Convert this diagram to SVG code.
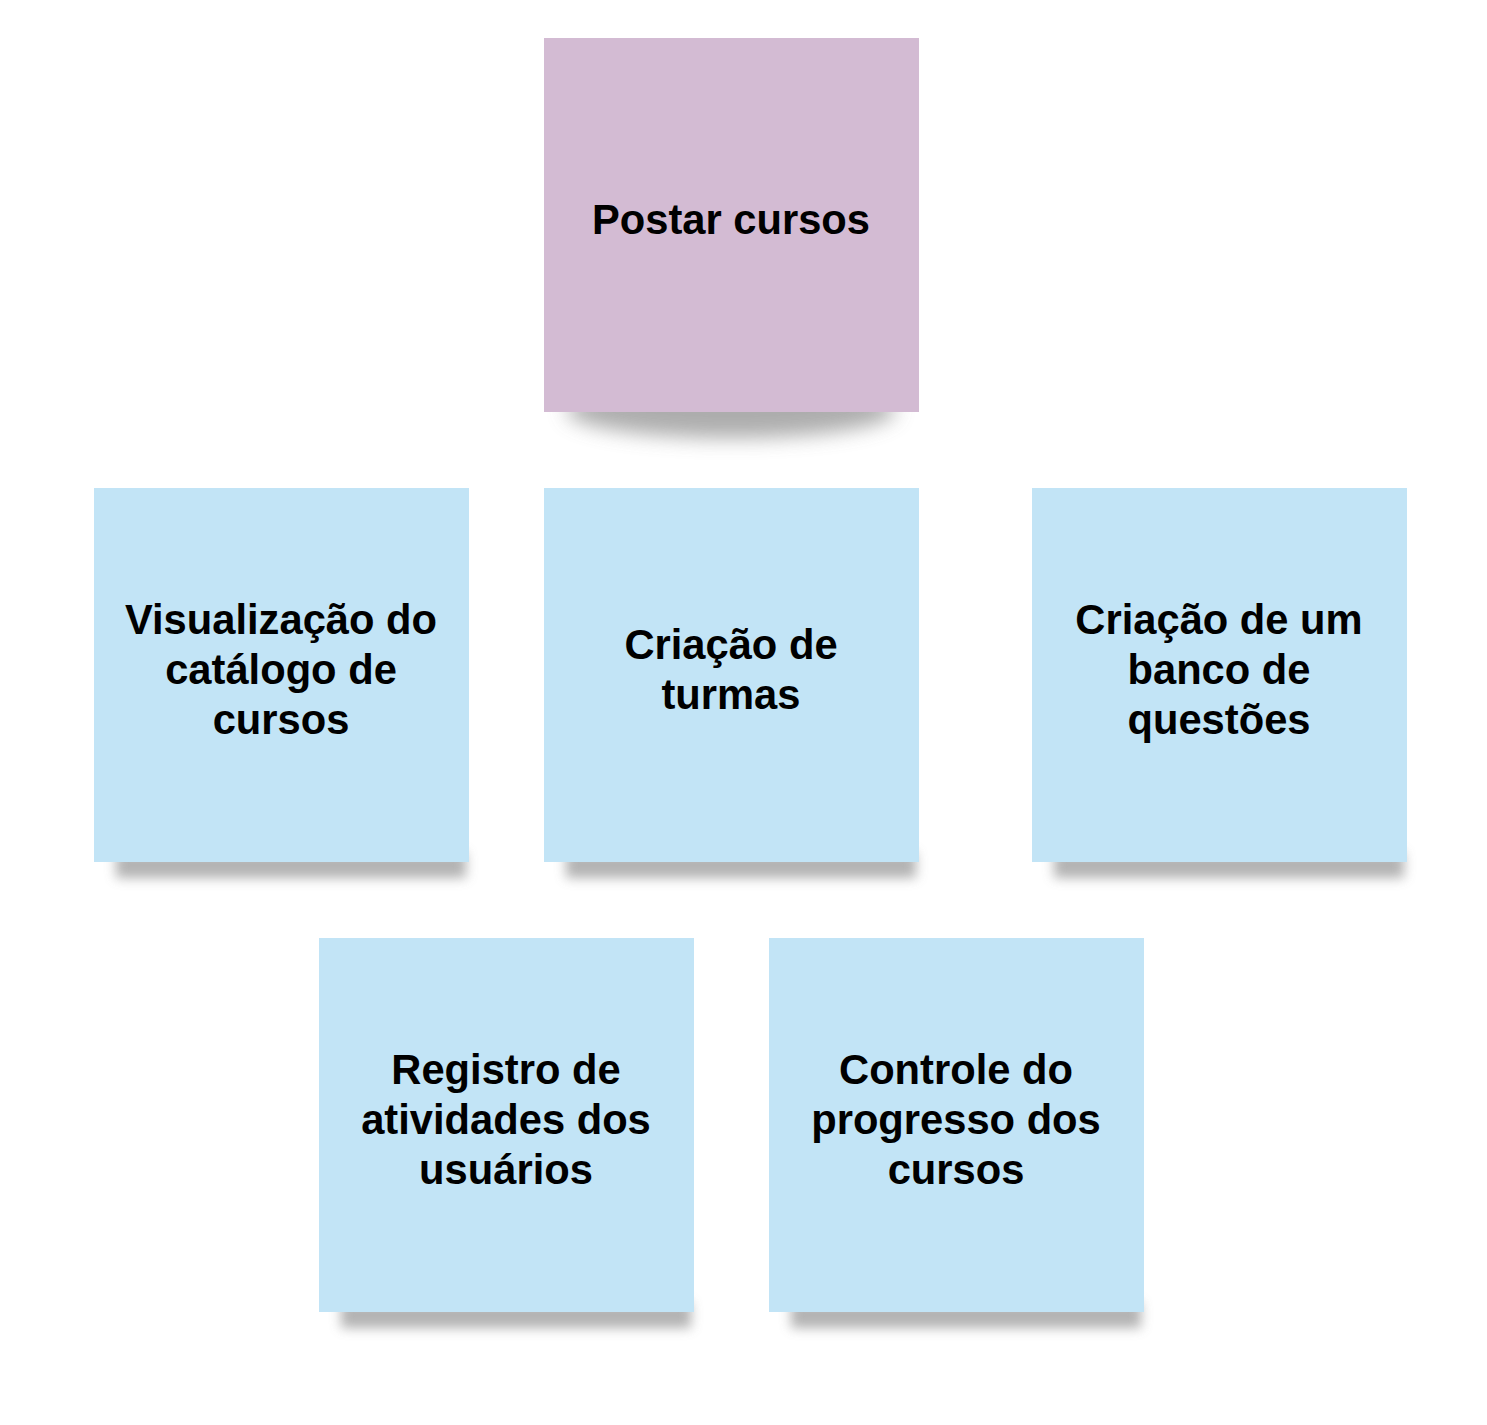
<svg xmlns="http://www.w3.org/2000/svg" width="1487" height="1425" viewBox="0 0 1487 1425">
<defs>
<style>
.note{fill:#C2E4F6}
.main{fill:#D3BBD3}
.t{font-family:"Liberation Sans",Arial,sans-serif;font-weight:bold;font-size:41.7px;fill:#000;text-anchor:middle}
.sh{fill:#9a9a9a;filter:url(#blur)}
</style>
<filter id="blur" x="-20%" y="-100%" width="140%" height="300%"><feGaussianBlur stdDeviation="6"/></filter>
<filter id="blur2" x="-20%" y="-100%" width="140%" height="300%"><feGaussianBlur stdDeviation="10"/></filter>
</defs>
<rect width="1487" height="1425" fill="#fff"/>
<g id="postar">
<ellipse cx="731" cy="410" rx="165" ry="28" fill="#999" filter="url(#blur2)" opacity="0.8"/>
<rect class="main" x="544" y="38" width="375" height="374"/>
<text class="t" x="731" y="234">Postar cursos</text>
</g>
<g id="visualizacao">
<rect class="sh" x="116" y="852" width="350" height="26" opacity="0.75"/>
<rect class="note" x="94" y="488" width="375" height="374"/>
<text class="t" x="281"><tspan x="281" y="634">Visualização do</tspan><tspan x="281" y="684">catálogo de</tspan><tspan x="281" y="734">cursos</tspan></text>
</g>
<g id="turmas">
<rect class="sh" x="566" y="852" width="350" height="26" opacity="0.75"/>
<rect class="note" x="544" y="488" width="375" height="374"/>
<text class="t" x="731"><tspan x="731" y="659">Criação de</tspan><tspan x="731" y="709">turmas</tspan></text>
</g>
<g id="questoes">
<rect class="sh" x="1054" y="852" width="350" height="26" opacity="0.75"/>
<rect class="note" x="1032" y="488" width="375" height="374"/>
<text class="t" x="1219"><tspan x="1219" y="634">Criação de um</tspan><tspan x="1219" y="684">banco de</tspan><tspan x="1219" y="734">questões</tspan></text>
</g>
<g id="registro">
<rect class="sh" x="341" y="1302" width="350" height="26" opacity="0.75"/>
<rect class="note" x="319" y="938" width="375" height="374"/>
<text class="t" x="506"><tspan x="506" y="1084">Registro de</tspan><tspan x="506" y="1134">atividades dos</tspan><tspan x="506" y="1184">usuários</tspan></text>
</g>
<g id="controle">
<rect class="sh" x="791" y="1302" width="350" height="26" opacity="0.75"/>
<rect class="note" x="769" y="938" width="375" height="374"/>
<text class="t" x="956"><tspan x="956" y="1084">Controle do</tspan><tspan x="956" y="1134">progresso dos</tspan><tspan x="956" y="1184">cursos</tspan></text>
</g>
<g id="connectors"/>
</svg>
